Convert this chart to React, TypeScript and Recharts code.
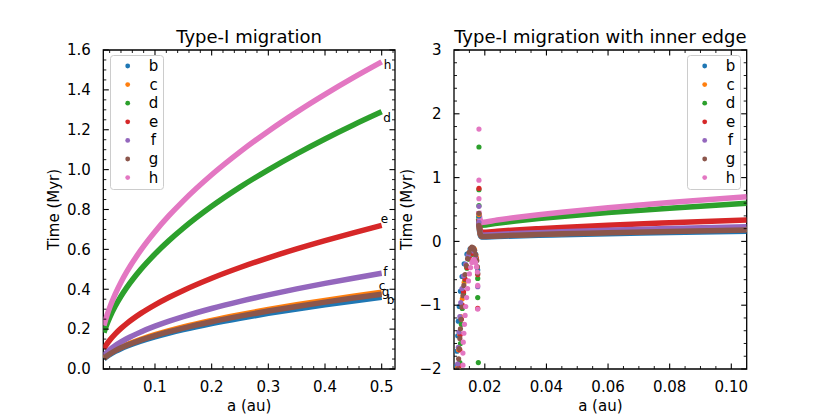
import React from 'react';
import { ComposedChart, Line, XAxis, YAxis, ReferenceArea } from 'recharts';

const FONT = '"DejaVu Sans", "Liberation Sans", sans-serif';

const planets = ['b', 'c', 'd', 'e', 'f', 'g', 'h'];
const colors = ['#1f77b4', '#ff7f0e', '#2ca02c', '#d62728', '#9467bd', '#8c564b', '#e377c2'];

// ---- left panel: Type-I migration ----
const aLeft = [0.01, 0.0125, 0.015, 0.02, 0.03, 0.04, 0.05, 0.075, 0.1, 0.125, 0.15, 0.2, 0.25, 0.3, 0.35, 0.4, 0.45, 0.5];
const tLeftB = [0.0509, 0.0569, 0.0624, 0.072, 0.0882, 0.1018, 0.1138, 0.1394, 0.161, 0.18, 0.1972, 0.2277, 0.2546, 0.2789, 0.3012, 0.322, 0.3415, 0.36];
const tLeftC = [0.0544, 0.0609, 0.0667, 0.077, 0.0943, 0.1089, 0.1217, 0.1491, 0.1722, 0.1925, 0.2109, 0.2435, 0.2722, 0.2982, 0.3221, 0.3443, 0.3652, 0.385];
const tLeftD = [0.1824, 0.2039, 0.2234, 0.258, 0.3159, 0.3648, 0.4079, 0.4996, 0.5769, 0.645, 0.7065, 0.8159, 0.9122, 0.9992, 1.0793, 1.1538, 1.2238, 1.29];
const tLeftE = [0.1018, 0.1138, 0.1247, 0.144, 0.1763, 0.2036, 0.2277, 0.2789, 0.322, 0.36, 0.3943, 0.4554, 0.5091, 0.5577, 0.6024, 0.644, 0.6831, 0.72];
const tLeftF = [0.0679, 0.0759, 0.0831, 0.096, 0.1176, 0.1357, 0.1518, 0.1859, 0.2147, 0.24, 0.2629, 0.3036, 0.3394, 0.3718, 0.4016, 0.4293, 0.4554, 0.48];
const tLeftG = [0.053, 0.0593, 0.065, 0.075, 0.0918, 0.1061, 0.1186, 0.1452, 0.1677, 0.1875, 0.2054, 0.2372, 0.2652, 0.2905, 0.3138, 0.3354, 0.3558, 0.375];
const tLeftH = [0.2178, 0.2435, 0.2667, 0.308, 0.3771, 0.4355, 0.4869, 0.5964, 0.6887, 0.77, 0.8435, 0.9741, 1.0889, 1.1929, 1.2885, 1.3774, 1.461, 1.54];

const leftXMajor = [0.1, 0.2, 0.3, 0.4, 0.5];
const leftYMajor = [0, 0.2, 0.4, 0.6, 0.8, 1.0, 1.2, 1.4, 1.6];

// ---- right panel: with inner edge ----
const aRight = [0.018, 0.0185, 0.019, 0.024, 0.03, 0.0375, 0.045, 0.06, 0.08, 0.105];
const tRightB = [0.28, 0.1, 0.068, 0.076, 0.086, 0.096, 0.105, 0.121, 0.14, 0.16];
const tRightC = [0.3, 0.12, 0.081, 0.091, 0.102, 0.114, 0.124, 0.144, 0.166, 0.19];
const tRightD = [0.4, 0.28, 0.254, 0.285, 0.319, 0.357, 0.391, 0.451, 0.521, 0.597];
const tRightE = [0.35, 0.18, 0.143, 0.16, 0.179, 0.2, 0.219, 0.253, 0.292, 0.335];
const tRightF = [0.32, 0.14, 0.098, 0.11, 0.123, 0.137, 0.151, 0.174, 0.201, 0.23];
const tRightG = [0.35, 0.12, 0.077, 0.086, 0.096, 0.108, 0.118, 0.136, 0.157, 0.18];
const tRightH = [0.48, 0.34, 0.298, 0.335, 0.374, 0.418, 0.458, 0.529, 0.611, 0.7];

// scattered points inside the inner edge [a, t]
const innerB: [number, number][] = [
  [0.0109, -1.95], [0.011, -1.72], [0.0112, -1.48], [0.0114, -1.25], [0.0117, -1.02], [0.0121, -0.78],
  [0.0126, -0.55], [0.0133, -0.35], [0.0142, -0.2], [0.0152, -0.12], [0.0162, -0.12], [0.017, -0.2],
  [0.0177, -0.45], [0.0181, 0.4],
];
const innerC: [number, number][] = [
  [0.0112, -1.98], [0.0115, -1.7], [0.0118, -1.45], [0.0122, -1.18], [0.0127, -0.9], [0.0133, -0.64],
  [0.0141, -0.4], [0.015, -0.2], [0.0158, -0.1], [0.0166, -0.12], [0.0172, -0.25], [0.0181, 0.42],
];
const innerD: [number, number][] = [
  [0.0119, -1.9], [0.0121, -1.6], [0.0124, -1.3], [0.0127, -1.05], [0.0131, -0.82], [0.0136, -0.6],
  [0.0142, -0.42], [0.0149, -0.28], [0.0157, -0.2], [0.0164, -0.2], [0.017, -0.28], [0.0177, -0.58],
  [0.0177, -0.88], [0.0179, -1.9], [0.0181, 0.56], [0.0181, 0.81], [0.0181, 1.48],
];
const innerE: [number, number][] = [
  [0.0117, -1.95], [0.0119, -1.7], [0.0121, -1.46], [0.0124, -1.22], [0.0127, -1.0], [0.0131, -0.79],
  [0.0136, -0.59], [0.0143, -0.41], [0.0151, -0.27], [0.0159, -0.19], [0.0166, -0.19], [0.0172, -0.27],
  [0.0177, -0.52], [0.0177, -1.05], [0.0181, 0.83],
];
const innerF: [number, number][] = [
  [0.0112, -1.92], [0.0114, -1.66], [0.0116, -1.42], [0.0119, -1.18], [0.0122, -0.96], [0.0126, -0.74],
  [0.0131, -0.54], [0.0138, -0.36], [0.0146, -0.22], [0.0155, -0.14], [0.0163, -0.15], [0.017, -0.26],
  [0.0177, -0.71], [0.0181, 0.3], [0.0181, 0.55],
];
const innerG: [number, number][] = [
  [0.0113, -2.0], [0.0115, -1.84], [0.0117, -1.68], [0.0119, -1.52], [0.0121, -1.37], [0.0123, -1.22],
  [0.0126, -1.03], [0.0129, -0.85], [0.0132, -0.69], [0.0136, -0.52], [0.014, -0.38], [0.0144, -0.27],
  [0.0149, -0.17], [0.0154, -0.11], [0.0158, -0.09], [0.0163, -0.1], [0.0167, -0.14], [0.0171, -0.21],
  [0.0174, -0.3], [0.0176, -0.4], [0.0177, -0.5], [0.0181, 0.25], [0.0181, 0.44],
];
const innerH: [number, number][] = [
  [0.0129, -1.94], [0.0129, -1.75], [0.013, -1.58], [0.0132, -1.44], [0.0134, -1.3], [0.0136, -1.16],
  [0.0138, -1.02], [0.0141, -0.88], [0.0144, -0.74], [0.0147, -0.62], [0.015, -0.51], [0.0154, -0.41],
  [0.0158, -0.33], [0.0162, -0.29], [0.0166, -0.29], [0.017, -0.33], [0.0173, -0.4], [0.0176, -0.48],
  [0.0177, -0.69], [0.0177, -1.06], [0.0181, 0.67], [0.0181, 0.96], [0.0181, 1.76],
];

const rightXMajor = [0.02, 0.04, 0.06, 0.08, 0.1];
const rightYMajor = [-2, -1, 0, 1, 2, 3];

// where each end-of-track letter sits relative to the last point (left panel)
const endLabelShift: [number, number][] = [[5, 2.5], [-3, -6], [1.5, 5.5], [-1, -7], [1.5, -2], [0, -2.5], [2, 3]];

type Pt = { a: number; t: number };

const toPts = (xs: number[], ts: number[]): Pt[] => xs.map((a, i) => ({ a, t: ts[i] }));
const fromPairs = (ps: [number, number][]): Pt[] => ps.map(([a, t]) => ({ a, t }));

const steps = (from: number, to: number, step: number, skip: number[]) => {
  const out: number[] = [];
  for (let k = 0; from + k * step <= to + 1e-9; k++) {
    const v = Math.round((from + k * step) * 1e6) / 1e6;
    if (!skip.some((m) => Math.abs(m - v) < 1e-9)) out.push(v);
  }
  return out;
};

const minus = (s: string) => s.replace('-', '\u2212');

const tickFactory = (side: 'bottom' | 'top' | 'left' | 'right', majors: number[], fmt: (v: number) => string) =>
  (props: any) => {
    const { x, y, payload } = props;
    const v = payload.value;
    const major = majors.some((m) => Math.abs(m - v) < 1e-9);
    const len = major ? 5.5 : 3;
    const sw = major ? 1.1 : 0.9;
    let d = '';
    let label = null;
    if (side === 'bottom') {
      d = `M${x},${y}L${x},${y - len}`;
      if (major) label = <text x={x} y={y + 18} dy="0.35em" textAnchor="middle">{fmt(v)}</text>;
    } else if (side === 'top') {
      d = `M${x},${y}L${x},${y + len}`;
    } else if (side === 'left') {
      d = `M${x},${y}L${x + len},${y}`;
      if (major) label = <text x={x - 12.5} y={y} dy="0.35em" textAnchor="end">{fmt(v)}</text>;
    } else {
      d = `M${x},${y}L${x - len},${y}`;
    }
    return (
      <g>
        <path d={d} stroke="#000" strokeWidth={sw} fill="none" />
        {label && (
          <g fill="#000" stroke="none" fontSize={15} fontFamily={FONT}>{label}</g>
        )}
      </g>
    );
  };

type PanelProps = {
  left: number;
  width: number;
  yAxisWidth: number;
  marginRight: number;
  xDomain: [number, number];
  yDomain: [number, number];
  xMajor: number[];
  xMinor: number[];
  yMajor: number[];
  yMinor: number[];
  xFmt: (v: number) => string;
  yFmt: (v: number) => string;
  title: string;
  yLabelOffset: number;
  curves: Pt[][];
  dots?: Pt[][];
  endLabels?: boolean;
};

const Panel = ({
  left, width, yAxisWidth, marginRight, xDomain, yDomain, xMajor, xMinor, yMajor, yMinor,
  xFmt, yFmt, title, yLabelOffset, curves, dots, endLabels,
}: PanelProps) => {
  const xTicks = [...xMajor, ...xMinor].sort((p, q) => p - q);
  const yTicks = [...yMajor, ...yMinor].sort((p, q) => p - q);

  return (
    <div style={{ position: 'absolute', left, top: 0 }}>
      <ComposedChart width={width} height={415} margin={{ top: 49, right: marginRight - 1, bottom: 16, left: 0 }}>
        <XAxis
          xAxisId="b" dataKey="a" type="number" domain={xDomain} allowDataOverflow
          ticks={xTicks} interval={0} tickSize={0} tickMargin={0} tickLine={false}
          axisLine={false} height={30} tick={tickFactory('bottom', xMajor, xFmt)}
          label={{ value: 'a (au)', position: 'bottom', offset: 1, fill: '#000', fontSize: 15, fontFamily: FONT }}
        />
        <XAxis
          xAxisId="t" dataKey="a" orientation="top" type="number" domain={xDomain} allowDataOverflow
          ticks={xTicks} interval={0} tickSize={0} tickMargin={0} tickLine={false}
          axisLine={false} height={1} tick={tickFactory('top', xMajor, xFmt)}
          label={{ value: title, position: 'top', offset: 6.5, fill: '#000', fontSize: 18, fontFamily: FONT }}
        />
        <YAxis
          yAxisId="l" type="number" domain={yDomain} allowDataOverflow
          ticks={yTicks} interval={0} tickSize={0} tickMargin={0} tickLine={false}
          axisLine={false} width={yAxisWidth} tick={tickFactory('left', yMajor, yFmt)}
          label={{
            value: 'Time (Myr)', angle: -90, position: 'insideLeft', offset: yLabelOffset,
            fill: '#000', fontSize: 15, fontFamily: FONT, style: { textAnchor: 'middle' },
          }}
        />
        <YAxis
          yAxisId="r" orientation="right" type="number" domain={yDomain} allowDataOverflow
          ticks={yTicks} interval={0} tickSize={0} tickMargin={0} tickLine={false}
          axisLine={false} width={1} tick={tickFactory('right', yMajor, yFmt)}
        />

        {curves.map((curve, i) => (
          <React.Fragment key={planets[i]}>
            <Line
              xAxisId="b" yAxisId="l" data={curve} dataKey="t" type="monotone"
              stroke={colors[i]} strokeWidth={5.5} dot={false} isAnimationActive={false}
              label={endLabels ? (p: any) => (
                p.index === curve.length - 1 ? (
                  <text
                    x={p.x + endLabelShift[i][0]} y={p.y + endLabelShift[i][1]} dy="0.35em"
                    fontSize={12} fontFamily={FONT} fill="#000"
                  >{planets[i]}</text>
                ) : null
              ) : false}
            />
            {dots && (
              <Line
                xAxisId="b" yAxisId="l" data={dots[i]} dataKey="t" type="linear"
                stroke="none" strokeWidth={0} activeDot={false} isAnimationActive={false}
                dot={{ r: 2.6, fill: colors[i], stroke: 'none' }}
              />
            )}
          </React.Fragment>
        ))}

        <ReferenceArea
          xAxisId="b" yAxisId="l" x1={xDomain[0]} x2={xDomain[1]} y1={yDomain[0]} y2={yDomain[1]}
          fill="none" fillOpacity={0} stroke="#000" strokeWidth={1.3} strokeOpacity={1} ifOverflow="visible"
        />
      </ComposedChart>
    </div>
  );
};

const LegendBox = ({ left, top }: { left: number; top: number }) => (
  <svg width={55} height={136} style={{ position: 'absolute', left, top }}>
    <rect x={0.5} y={0.5} width={53} height={134} rx={3} fill="#fff" fillOpacity={0.8} stroke="#cccccc" />
    {planets.map((p, i) => (
      <g key={p}>
        <circle cx={17.7} cy={11 + i * 18.6} r={2.4} fill={colors[i]} />
        <text x={43.5} y={16 + i * 18.6} textAnchor="middle" fontSize={15} fontFamily={FONT} fill="#000">{p}</text>
      </g>
    ))}
  </svg>
);

const App = () => {
  const leftCurves = [tLeftB, tLeftC, tLeftD, tLeftE, tLeftF, tLeftG, tLeftH].map((ts) => toPts(aLeft, ts));
  const rightCurves = [tRightB, tRightC, tRightD, tRightE, tRightF, tRightG, tRightH].map((ts) => toPts(aRight, ts));
  const rightDots = [innerB, innerC, innerD, innerE, innerF, innerG, innerH].map(fromPairs);

  return (
    <div style={{ position: 'absolute', left: 0, top: 0, width: 830, height: 415, background: '#fff', fontFamily: FONT }}>
      <Panel
        left={0} width={405} yAxisWidth={103.3} marginRight={10}
        xDomain={[0.0088, 0.5235]} yDomain={[0, 1.6]}
        xMajor={leftXMajor} xMinor={steps(0.02, 0.52, 0.02, leftXMajor)}
        yMajor={leftYMajor} yMinor={steps(0.05, 1.55, 0.05, leftYMajor)}
        xFmt={(v) => v.toFixed(1)} yFmt={(v) => v.toFixed(1)}
        title="Type-I migration" yLabelOffset={53.3}
        curves={leftCurves} endLabels
      />
      <Panel
        left={395} width={435} yAxisWidth={59} marginRight={83.3}
        xDomain={[0.01, 0.105]} yDomain={[-2, 3]}
        xMajor={rightXMajor} xMinor={steps(0.015, 0.1, 0.005, rightXMajor)}
        yMajor={rightYMajor} yMinor={steps(-1.8, 2.8, 0.2, rightYMajor)}
        xFmt={(v) => v.toFixed(2)} yFmt={(v) => minus(String(v))}
        title="Type-I migration with inner edge" yLabelOffset={12}
        curves={rightCurves} dots={rightDots}
      />
      <LegendBox left={110} top={55} />
      <LegendBox left={687} top={55} />
    </div>
  );
};

export default App;
